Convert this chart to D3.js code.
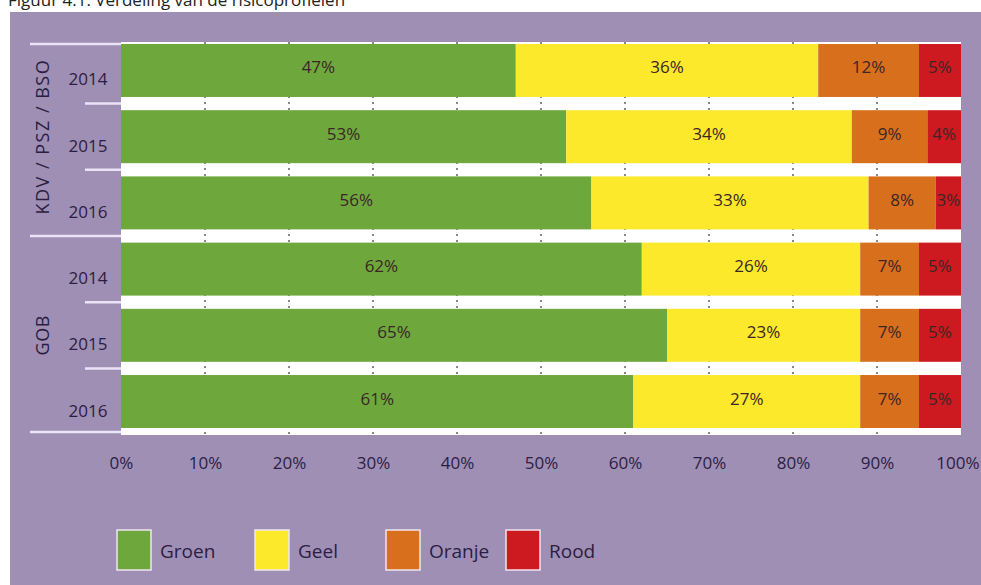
<!DOCTYPE html>
<html lang="nl">
<head>
<meta charset="utf-8">
<title>Verdeling van de risicoprofielen</title>
<script src="https://cdn.jsdelivr.net/npm/d3@7/dist/d3.min.js"></script>
<style>
  body { margin: 0; background: #fff; }
  text { font-family: "Open Sans", "DejaVu Sans", sans-serif; }
</style>
</head>
<body>
<script>
// Data
var groups = ["KDV / PSZ / BSO", "GOB"];
var years = ["2014", "2015", "2016"];
var categories = ["Groen", "Geel", "Oranje", "Rood"];
var colors = ["#6ea83c", "#fde92c", "#d86f1c", "#cc1a20"];
var kdvValues = [[47, 36, 12, 5], [53, 34, 9, 4], [56, 33, 8, 3]];
var gobValues = [[62, 26, 7, 5], [65, 23, 7, 5], [61, 27, 7, 5]];
var xTicks = [0, 10, 20, 30, 40, 50, 60, 70, 80, 90, 100];

var width = 981, height = 585;

var rows = [];
years.forEach(function(y, i){ rows.push({group: groups[0], year: y, values: kdvValues[i], key: groups[0] + y}); });
years.forEach(function(y, i){ rows.push({group: groups[1], year: y, values: gobValues[i], key: groups[1] + y}); });

var svg = d3.select("body").append("svg")
    .attr("width", width)
    .attr("height", height);

// title (cut off at top, as in the original scan)
svg.append("text")
    .attr("x", 8).attr("y", 6)
    .attr("font-size", 17)
    .attr("fill", "#222")
    .text("Figuur 4.1: Verdeling van de risicoprofielen");

svg.append("rect")
    .attr("x", 10).attr("y", 12)
    .attr("width", width - 10).attr("height", height - 12)
    .attr("fill", "#9f8fb5");

var x = d3.scaleLinear().domain([0, 100]).range([121, 961]);
var y = d3.scaleBand().domain(rows.map(function(d){ return d.key; }))
    .range([44, 428]).paddingInner(0.2).paddingOuter(0);
var gap = y.step() - y.bandwidth();

// white plot background
svg.append("rect")
    .attr("x", x(0)).attr("y", 42)
    .attr("width", x(100) - x(0)).attr("height", 393)
    .attr("fill", "#ffffff");

// dotted gridlines
svg.append("g").selectAll("line")
    .data(xTicks.slice(1, -1))
    .join("line")
    .attr("x1", function(d){ return x(d); })
    .attr("x2", function(d){ return x(d); })
    .attr("y1", 42).attr("y2", 435)
    .attr("stroke", "#888")
    .attr("stroke-width", 2)
    .attr("stroke-dasharray", "2,4");

// bars
var rowG = svg.append("g").selectAll("g")
    .data(rows)
    .join("g")
    .attr("transform", function(d){ return "translate(0," + y(d.key) + ")"; });

var segs = rowG.selectAll("g")
    .data(function(d){
        var acc = 0;
        return d.values.map(function(v, i){
            var s = {start: acc, value: v, i: i};
            acc += v;
            return s;
        });
    })
    .join("g");

segs.append("rect")
    .attr("x", function(d){ return x(d.start); })
    .attr("width", function(d){ return x(d.start + d.value) - x(d.start); })
    .attr("height", y.bandwidth())
    .attr("fill", function(d){ return colors[d.i]; });

segs.append("text")
    .attr("x", function(d){ return (x(d.start) + x(d.start + d.value)) / 2; })
    .attr("y", y.bandwidth() / 2 + 3)
    .attr("text-anchor", "middle")
    .attr("font-size", 17)
    .attr("fill", "#3a2626")
    .text(function(d){ return d.value + "%"; });

// left separators
var sepColor = "#ece4f6";
for (var i = 0; i <= rows.length; i++) {
    var yy;
    if (i === 0) yy = 44;
    else if (i === rows.length) yy = y(rows[i - 1].key) + y.bandwidth() + 4;
    else yy = y(rows[i].key) - gap / 2;
    var full = (i % 3 === 0);
    svg.append("line")
        .attr("x1", full ? 30 : 85).attr("x2", x(0))
        .attr("y1", yy).attr("y2", yy)
        .attr("stroke", sepColor)
        .attr("stroke-width", 2.5);
}

// year labels
svg.append("g").selectAll("text")
    .data(rows)
    .join("text")
    .attr("x", 88)
    .attr("y", function(d){ return y(d.key) + y.bandwidth() / 2 + 15; })
    .attr("text-anchor", "middle")
    .attr("font-size", 17)
    .attr("fill", "#2b1d40")
    .text(function(d){ return d.year; });

// group labels
groups.forEach(function(g, gi){
    var top = y(rows[gi * 3].key), bottom = y(rows[gi * 3 + 2].key) + y.bandwidth();
    var cy = (top + bottom) / 2;
    svg.append("text")
        .attr("transform", "translate(49," + cy + ") rotate(-90)")
        .attr("text-anchor", "middle")
        .attr("font-size", 18)
        .attr("letter-spacing", gi === 0 ? 1.5 : 0.5)
        .attr("fill", "#2b1d40")
        .text(g);
});

// x axis
var xAxis = svg.append("g")
    .attr("transform", "translate(0,454)")
    .call(d3.axisBottom(x).tickValues(xTicks).tickSize(0).tickFormat(function(d){ return d + "%"; }));
xAxis.select(".domain").remove();
xAxis.selectAll("text")
    .attr("font-size", 17)
    .attr("fill", "#2b1d44")
    .attr("font-family", "\"Open Sans\", sans-serif");
// keep last label inside the window
xAxis.selectAll(".tick").filter(function(d){ return d === 100; }).select("text")
    .attr("text-anchor", "end")
    .attr("x", 979 - x(100));

// legend
var legendX = [117, 255, 386, 506];
var legend = svg.append("g").selectAll("g")
    .data(categories)
    .join("g")
    .attr("transform", function(d, i){ return "translate(" + legendX[i] + ",530)"; });
legend.append("rect")
    .attr("width", 34).attr("height", 40)
    .attr("fill", function(d, i){ return colors[i]; })
    .attr("stroke", "#f0e6f0")
    .attr("stroke-width", 1.5);
legend.append("text")
    .attr("x", 43).attr("y", 28)
    .attr("font-size", 19)
    .attr("fill", "#2b1d44")
    .text(function(d){ return d; });
</script>
</body>
</html>
